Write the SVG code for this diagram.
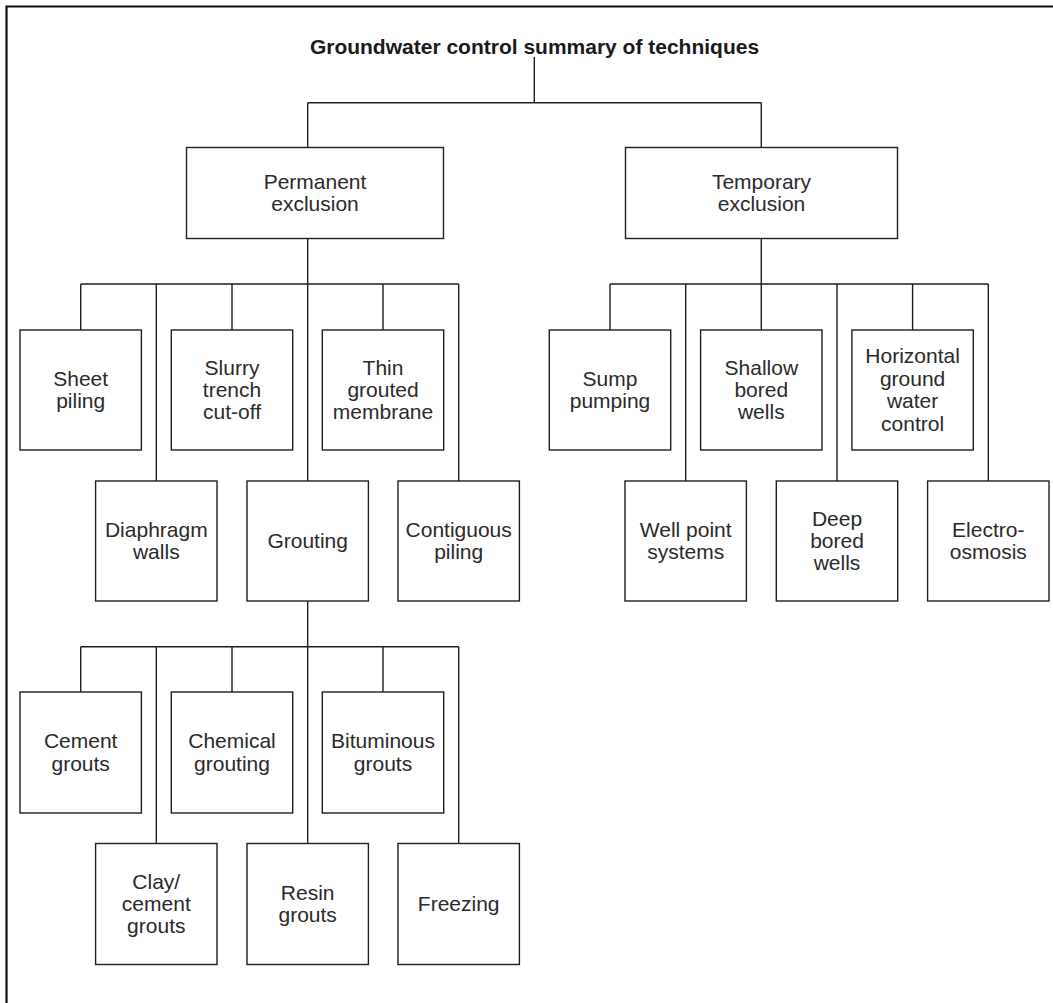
<svg xmlns="http://www.w3.org/2000/svg" width="1053" height="1003" viewBox="0 0 1053 1003">
<style>
.bx{fill:#fff;stroke:#1e1e1e;stroke-width:1.4}
.ln{fill:none;stroke:#1e1e1e;stroke-width:1.4}
text{font-family:"Liberation Sans",Arial,Helvetica,sans-serif;font-size:21px;fill:#2a2a2a;text-anchor:middle}
.tt{font-weight:bold;fill:#1a1a1a}
</style>
<rect width="1053" height="1003" fill="#fff"/>
<path d="M6.5,1003 V6.5 H1053" fill="none" stroke="#111" stroke-width="2.2"/>
<g id="title"><text class="tt" x="534.5" y="54">Groundwater control summary of techniques</text></g>
<g id="connectors">
<path class="ln" d="M534.3,57 V102.7 M307.7,102.7 H761.3 M307.7,102.7 V147.5 M761.3,102.7 V147.5"/>
<path class="ln" d="M307.7,238.5 V284 M80.7,284 H458.7 M80.7,284 V330 M156.3,284 V481 M232,284 V330 M307.7,284 V481 M383,284 V330 M458.7,284 V481"/>
<path class="ln" d="M761.3,238.5 V284 M610,284 H988.3 M610,284 V330 M685.7,284 V481 M761.3,284 V330 M837,284 V481 M912.6,284 V330 M988.3,284 V481"/>
<path class="ln" d="M307.7,601 V646.7 M80.7,646.7 H458.7 M80.7,646.7 V692 M156.3,646.7 V843.5 M232,646.7 V692 M307.7,646.7 V843.5 M383,646.7 V692 M458.7,646.7 V843.5"/>
</g>
<g id="permanent"><rect class="bx" x="186.5" y="147.5" width="257" height="91"/><text x="315" y="189">Permanent</text><text x="315" y="211.4">exclusion</text></g>
<g id="temporary"><rect class="bx" x="625.5" y="147.5" width="272" height="91"/><text x="761.5" y="189">Temporary</text><text x="761.5" y="211.4">exclusion</text></g>
<g id="sheet"><rect class="bx" x="20" y="330" width="121.4" height="120"/><text x="80.7" y="385.8">Sheet</text><text x="80.7" y="408.2">piling</text></g>
<g id="slurry"><rect class="bx" x="171.3" y="330" width="121.4" height="120"/><text x="232" y="374.6">Slurry</text><text x="232" y="397">trench</text><text x="232" y="419.4">cut-off</text></g>
<g id="thin"><rect class="bx" x="322.3" y="330" width="121.4" height="120"/><text x="383" y="374.6">Thin</text><text x="383" y="397">grouted</text><text x="383" y="419.4">membrane</text></g>
<g id="diaphragm"><rect class="bx" x="95.6" y="481" width="121.4" height="120"/><text x="156.3" y="536.8">Diaphragm</text><text x="156.3" y="559.2">walls</text></g>
<g id="grouting"><rect class="bx" x="247" y="481" width="121.4" height="120"/><text x="307.7" y="548">Grouting</text></g>
<g id="contiguous"><rect class="bx" x="398" y="481" width="121.4" height="120"/><text x="458.7" y="536.8">Contiguous</text><text x="458.7" y="559.2">piling</text></g>
<g id="sump"><rect class="bx" x="549.3" y="330" width="121.4" height="120"/><text x="610" y="385.8">Sump</text><text x="610" y="408.2">pumping</text></g>
<g id="shallow"><rect class="bx" x="700.6" y="330" width="121.4" height="120"/><text x="761.3" y="374.6">Shallow</text><text x="761.3" y="397">bored</text><text x="761.3" y="419.4">wells</text></g>
<g id="horizontal"><rect class="bx" x="851.9" y="330" width="121.4" height="120"/><text x="912.6" y="363.4">Horizontal</text><text x="912.6" y="385.8">ground</text><text x="912.6" y="408.2">water</text><text x="912.6" y="430.6">control</text></g>
<g id="wellpoint"><rect class="bx" x="625" y="481" width="121.4" height="120"/><text x="685.7" y="536.8">Well point</text><text x="685.7" y="559.2">systems</text></g>
<g id="deep"><rect class="bx" x="776.3" y="481" width="121.4" height="120"/><text x="837" y="525.6">Deep</text><text x="837" y="548">bored</text><text x="837" y="570.4">wells</text></g>
<g id="electro"><rect class="bx" x="927.6" y="481" width="121.4" height="120"/><text x="988.3" y="536.8">Electro-</text><text x="988.3" y="559.2">osmosis</text></g>
<g id="cement"><rect class="bx" x="20" y="692" width="121.4" height="121"/><text x="80.7" y="748.3">Cement</text><text x="80.7" y="770.7">grouts</text></g>
<g id="chemical"><rect class="bx" x="171.3" y="692" width="121.4" height="121"/><text x="232" y="748.3">Chemical</text><text x="232" y="770.7">grouting</text></g>
<g id="bituminous"><rect class="bx" x="322.3" y="692" width="121.4" height="121"/><text x="383" y="748.3">Bituminous</text><text x="383" y="770.7">grouts</text></g>
<g id="clay"><rect class="bx" x="95.6" y="843.5" width="121.4" height="121"/><text x="156.3" y="888.6">Clay/</text><text x="156.3" y="911">cement</text><text x="156.3" y="933.4">grouts</text></g>
<g id="resin"><rect class="bx" x="247" y="843.5" width="121.4" height="121"/><text x="307.7" y="899.8">Resin</text><text x="307.7" y="922.2">grouts</text></g>
<g id="freezing"><rect class="bx" x="398" y="843.5" width="121.4" height="121"/><text x="458.7" y="911">Freezing</text></g>
</svg>
